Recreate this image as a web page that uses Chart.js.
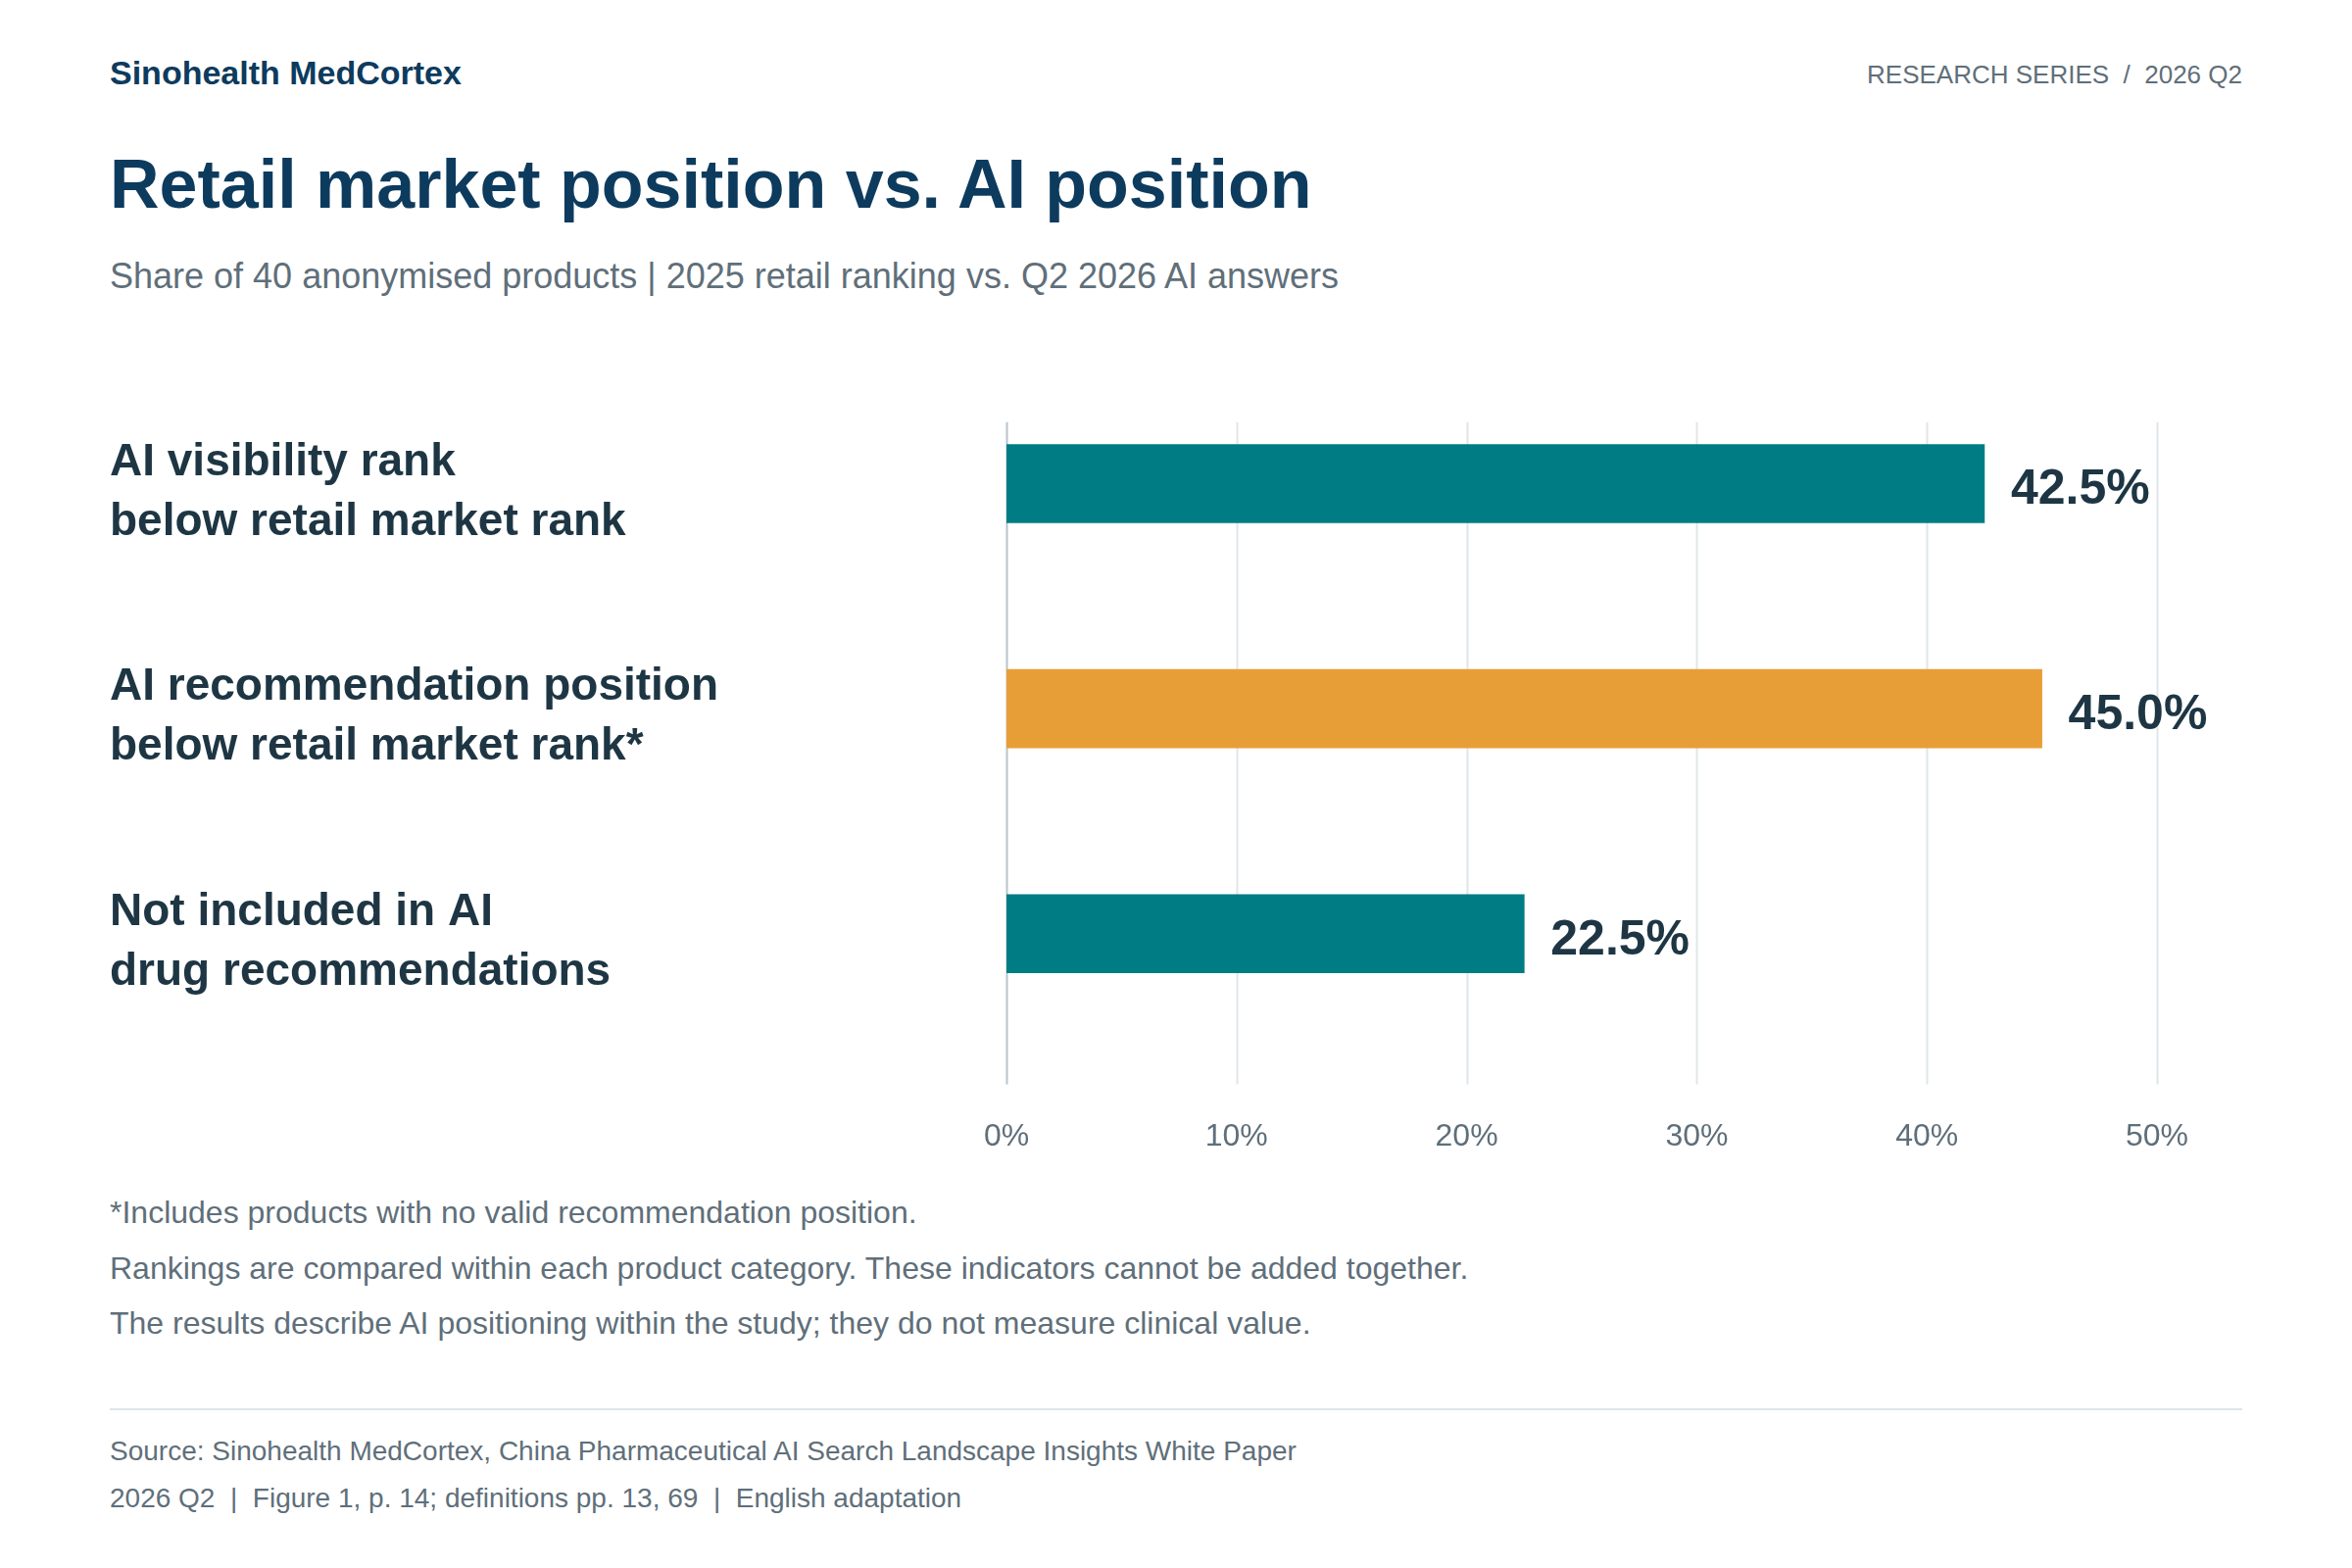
<!DOCTYPE html>
<html>
<head>
<meta charset="utf-8">
<script src="https://cdn.jsdelivr.net/npm/chart.js@4"></script>
<style>
  body { margin: 0; width: 2400px; height: 1600px; background: #fff; font-family: "Liberation Sans", Arial, sans-serif; position: relative; overflow: hidden; }
  .abs { position: absolute; white-space: nowrap; }
  #brand { left: 112px; top: 55px; font-size: 34px; font-weight: bold; color: #0d3b5e; }
  #series { right: 112px; top: 61px; font-size: 26px; color: #5f6f7a; }
  #title { left: 112px; top: 148px; font-size: 70px; font-weight: bold; color: #0d3b5e; }
  #subtitle { left: 112px; top: 261px; font-size: 36px; color: #5f6f7a; }
  .note { left: 112px; font-size: 32px; color: #5f6f7a; }
  #rule { left: 112px; top: 1437px; width: 2176px; height: 2px; background: #dfe5e9; }
  .src { left: 112px; font-size: 28px; color: #5f6f7a; }
  #wrap { position: absolute; left: 112px; top: 315px; width: 2188px; height: 890px; }
</style>
</head>
<body>
<div class="abs" id="brand">Sinohealth MedCortex</div>
<div class="abs" id="series">RESEARCH SERIES&nbsp; /&nbsp; 2026 Q2</div>
<div class="abs" id="title">Retail market position vs. AI position</div>
<div class="abs" id="subtitle">Share of 40 anonymised products | 2025 retail ranking vs. Q2 2026 AI answers</div>
<div id="wrap"><canvas id="chart"></canvas></div>
<div class="abs note" style="top:1219px">*Includes products with no valid recommendation position.</div>
<div class="abs note" style="top:1276px">Rankings are compared within each product category. These indicators cannot be added together.</div>
<div class="abs note" style="top:1332px">The results describe AI positioning within the study; they do not measure clinical value.</div>
<div class="abs" id="rule"></div>
<div class="abs src" style="top:1465px">Source: Sinohealth MedCortex, China Pharmaceutical AI Search Landscape Insights White Paper</div>
<div class="abs src" style="top:1513px">2026 Q2&nbsp; |&nbsp; Figure 1, p. 14; definitions pp. 13, 69&nbsp; |&nbsp; English adaptation</div>
<script>
const categories = [
  ["AI visibility rank", "below retail market rank"],
  ["AI recommendation position", "below retail market rank*"],
  ["Not included in AI", "drug recommendations"],
];
const shares = [42.5, 45.0, 22.5];
const barColors = ["#007c85", "#e89e36", "#007c85"];
const xTicks = [0, 10, 20, 30, 40, 50];

const GRID_TOP = 52; // grid lines start below the chart area top (canvas px)

// vertical grid lines drawn from the x scale
const gridPlugin = {
  id: "grid",
  beforeDatasetsDraw(chart) {
    const { ctx, scales: { x }, chartArea } = chart;
    ctx.save();
    xTicks.forEach((t) => {
      const px = Math.round(x.getPixelForValue(t)) + 0.5;
      ctx.strokeStyle = t === 0 ? "#b8c4cb" : "#dfe6ea";
      ctx.lineWidth = 2;
      ctx.beginPath();
      ctx.moveTo(px, chartArea.top + GRID_TOP);
      ctx.lineTo(px, chartArea.bottom);
      ctx.stroke();
    });
    ctx.restore();
  },
};

const valuePlugin = {
  id: "values",
  afterDatasetsDraw(chart) {
    const { ctx } = chart;
    const meta = chart.getDatasetMeta(0);
    ctx.save();
    ctx.font = "bold 50px 'Liberation Sans', Arial, sans-serif";
    ctx.fillStyle = "#1e3644";
    ctx.textAlign = "left";
    ctx.textBaseline = "middle";
    meta.data.forEach((bar, i) => {
      ctx.fillText(shares[i].toFixed(1) + "%", bar.x + 27, bar.y + 7);
    });
    ctx.restore();
  },
};

new Chart(document.getElementById("chart"), {
  type: "bar",
  data: {
    datasets: [{
      data: shares.map((v, i) => ({ x: v, y: i })),
      backgroundColor: barColors,
      barThickness: 80,
    }],
  },
  options: {
    indexAxis: "y",
    responsive: true,
    maintainAspectRatio: false,
    animation: false,
    layout: { padding: { top: 0, right: 99, left: 0, bottom: 0 } },
    plugins: { legend: { display: false }, tooltip: { enabled: false } },
    scales: {
      x: {
        type: "linear",
        min: 0,
        max: 50,
        afterBuildTicks: (s) => { s.ticks = xTicks.map((v) => ({ value: v })); },
        grid: { display: false },
        border: { display: false },
        ticks: {
          padding: 26,
          color: "#5f6f7a",
          font: { size: 32, family: "'Liberation Sans', Arial, sans-serif" },
          callback: (v) => v + "%",
        },
      },
      y: {
        type: "linear",
        reverse: true,
        offset: false,
        min: -0.5,
        max: 2.67,
        afterBuildTicks: (s) => { s.ticks = categories.map((c, i) => ({ value: i })); },
        afterFit: (s) => { s.width = 915; },
        grid: { display: false },
        border: { display: false },
        ticks: {
          align: "center",
          crossAlign: "far",
          labelOffset: 9,
          color: "#1e3644",
          font: { size: 46, weight: "bold", family: "'Liberation Sans', Arial, sans-serif", lineHeight: 1.32 },
          callback: (v) => categories[v],
        },
      },
    },
  },
  plugins: [gridPlugin, valuePlugin],
});
</script>
</body>
</html>
